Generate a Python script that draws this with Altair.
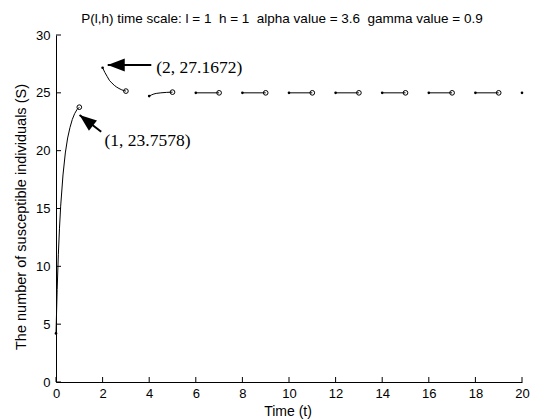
import altair as alt
import pandas as pd

# ---- data ----
seg1_t = [0, 0.05, 0.1, 0.15, 0.2, 0.3, 0.4, 0.5, 0.6, 0.7, 0.8, 0.9, 1.0]
seg1_S = [4.2, 8.0, 11.0, 13.3, 15.2, 17.9, 19.8, 21.1, 22.0, 22.7, 23.2, 23.55, 23.7578]
seg2_t = [2.0, 2.1, 2.2, 2.3, 2.4, 2.5, 2.6, 2.7, 2.8, 2.9, 3.0]
seg2_S = [27.1672, 26.75, 26.4, 26.05, 25.85, 25.65, 25.5, 25.38, 25.28, 25.2, 25.15]
seg3_t = [4.0, 4.1, 4.2, 4.3, 4.5, 4.75, 5.0]
seg3_S = [24.72, 24.82, 24.9, 24.95, 25.0, 25.04, 25.06]
flat_starts = [6, 8, 10, 12, 14, 16, 18]
flat_value = 25.0
last_t = [20]
last_S = [25.0]

x_ticks = [0, 2, 4, 6, 8, 10, 12, 14, 16, 18, 20]
y_ticks = [0, 5, 10, 15, 20, 25, 30]

NB = "\u00a0"
title_text = f"P(l,h) time scale: l = 1 {NB}h = 1 {NB}alpha value = 3.6 {NB}gamma value = 0.9"
x_title = "Time (t)"
y_title = "The number of susceptible individuals (S)"

ann_labels = ["(2, 27.1672)", "(1, 23.7578)"]
ann_text_t = [4.3, 2.08]
ann_text_S = [27.15, 20.8]
arrow_tip_t = [2.22, 1.01]
arrow_tip_S = [27.4, 23.08]
arrow_tail_t = [4.09, 1.94]
arrow_tail_S = [27.4, 21.64]
arrow_angle = [0, 38]

# ---- build tables ----
rows = []
segs = [(seg1_t, seg1_S), (seg2_t, seg2_S), (seg3_t, seg3_S)]
for s in flat_starts:
    segs.append(([s, s + 1], [flat_value, flat_value]))
for i, (ts, ss) in enumerate(segs):
    for t, v in zip(ts, ss):
        rows.append({"t": t, "S": v, "seg": i})
lines_df = pd.DataFrame(rows)

start_df = pd.DataFrame(
    [{"t": ts[0], "S": ss[0]} for ts, ss in segs] +
    [{"t": t, "S": v} for t, v in zip(last_t, last_S)]
)
end_df = pd.DataFrame([{"t": ts[-1], "S": ss[-1]} for ts, ss in segs])

ann_df = pd.DataFrame({
    "label": ann_labels, "tx": ann_text_t, "ty": ann_text_S,
    "tip_t": arrow_tip_t, "tip_S": arrow_tip_S,
    "tail_t": arrow_tail_t, "tail_S": arrow_tail_S, "angle": arrow_angle,
})

W, H = 466, 347
FONT = "Liberation Sans"

xs = alt.Scale(domain=[0, 20], nice=False)
ys = alt.Scale(domain=[0, 30], nice=False)

x_axis = alt.Axis(values=x_ticks, grid=False, tickSize=0, ticks=False, orient="bottom",
                  labelPadding=5, domain=True, domainColor="black", labelColor="black",
                  labelFont=FONT, labelFontSize=13, title=None, labelFlush=False)
y_axis = alt.Axis(values=y_ticks, grid=False, tickSize=0, ticks=False, orient="left",
                  labelPadding=6, domain=True, domainColor="black", labelColor="black",
                  labelFont=FONT, labelFontSize=13, title=None, labelFlush=False)


def X(field):
    return alt.X(field, type="quantitative", scale=xs, axis=x_axis)


def Y(field):
    return alt.Y(field, type="quantitative", scale=ys, axis=y_axis)


base_lines = alt.Chart(lines_df).mark_line(color="black", strokeWidth=1).encode(
    x=X("t"), y=Y("S"), detail="seg:N")

start_pts = alt.Chart(start_df).mark_point(filled=True, color="black", size=7, opacity=1).encode(
    x=X("t"), y=Y("S"))

end_pts = alt.Chart(end_df).mark_point(filled=False, color="black", size=22, strokeWidth=1, opacity=1).encode(
    x=X("t"), y=Y("S"))

# inward ticks (MATLAB style) drawn as stroked line symbols at the axis positions
xt_df = pd.DataFrame({"v": x_ticks, "zero": [0] * len(x_ticks)})
yt_df = pd.DataFrame({"v": y_ticks, "zero": [0] * len(y_ticks)})
x_tick_marks = alt.Chart(xt_df).mark_point(
    shape="M0,0 L0,-2", filled=False, color="black", strokeWidth=1, size=25, opacity=1).encode(
    x=X("v"), y=Y("zero"))
y_tick_marks = alt.Chart(yt_df).mark_point(
    shape="M0,0 L2,0", filled=False, color="black", strokeWidth=1, size=25, opacity=1).encode(
    x=X("zero"), y=Y("v"))

# arrows
shafts = alt.Chart(ann_df).mark_rule(color="black", strokeWidth=2).encode(
    x=X("tip_t"), y=Y("tip_S"), x2="tail_t:Q", y2="tail_S:Q")
heads = alt.Chart(ann_df).mark_point(
    shape="M0,0 L3.4,-1.3 L3.4,1.3 Z", filled=True, color="black", size=100, opacity=1,
    strokeWidth=0).encode(
    x=X("tip_t"), y=Y("tip_S"), angle=alt.Angle("angle:Q", scale=None))
ann_text = alt.Chart(ann_df).mark_text(
    font="Liberation Serif", fontSize=17.5, align="left", baseline="middle", color="black").encode(
    x=X("tx"), y=Y("ty"), text="label:N")

# titles
title_mark = alt.Chart(pd.DataFrame({"s": [title_text]})).mark_text(
    font=FONT, fontSize=13.5, align="center", baseline="middle", color="black").encode(
    x=alt.value(226), y=alt.value(-16), text="s:N")
xtitle_mark = alt.Chart(pd.DataFrame({"s": [x_title]})).mark_text(
    font=FONT, fontSize=14, align="center", baseline="middle", color="black").encode(
    x=alt.value(232), y=alt.value(377), text="s:N")
ytitle_mark = alt.Chart(pd.DataFrame({"s": [y_title]})).mark_text(
    font=FONT, fontSize=14.5, align="center", baseline="middle", color="black", angle=270).encode(
    x=alt.value(-34), y=alt.value(182), text="s:N")

chart = alt.layer(
    base_lines, start_pts, end_pts, x_tick_marks, y_tick_marks,
    shafts, heads, ann_text, title_mark, xtitle_mark, ytitle_mark,
).properties(
    width=W, height=H,
    background="white",
    autosize=alt.AutoSizeParams(type="none"),
    padding={"left": 56, "top": 35, "right": 13, "bottom": 37},
).configure_view(
    stroke="transparent", strokeWidth=0
).configure_axisTop(
    domain=False, labels=False, ticks=False, grid=False
).configure_axisRight(
    domain=False, labels=False, ticks=False, grid=False
)

chart.save("out.html", embed_options={"renderer": "svg", "actions": False})
